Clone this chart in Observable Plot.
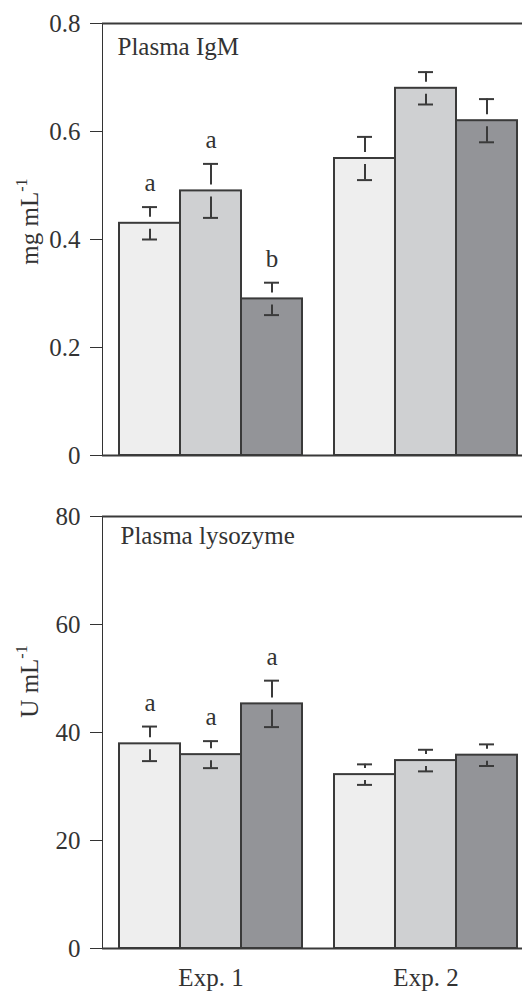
<!DOCTYPE html>
<html><head><meta charset="utf-8">
<script src="https://cdn.jsdelivr.net/npm/d3@7"></script>
<script src="https://cdn.jsdelivr.net/npm/@observablehq/plot@0.6"></script>
<style>
html,body{margin:0;padding:0;background:#fff;overflow:hidden}
#chart svg{display:block}
</style>
</head><body><div id="chart"></div>
<script>
const experiments = ["Exp. 1", "Exp. 2"];
const groups = ["1", "2", "3"];
const groupFills = ["#eeeeee", "#cfd0d2", "#939498"];

const igmMean = [0.43, 0.49, 0.29, 0.55, 0.68, 0.62];
const igmSE = [0.03, 0.05, 0.03, 0.04, 0.03, 0.04];
const igmLetters = ["a", "a", "b", "", "", ""];
const igmTicks = [0, 0.2, 0.4, 0.6, 0.8];

const lysMean = [37.9, 35.9, 45.3, 32.2, 34.8, 35.8];
const lysSE = [3.2, 2.5, 4.3, 1.9, 2.0, 2.0];
const lysLetters = ["a", "a", "a", "", "", ""];
const lysTicks = [0, 20, 40, 60, 80];

const INK = "#3a3a3a";
const FONT = "Liberation Serif, Times New Roman, serif";

function rows(means, ses, letters) {
  return means.map((m, i) => ({
    exp: experiments[Math.floor(i / 3)],
    group: groups[i % 3],
    mean: m,
    se: ses[i],
    letter: letters[i]
  }));
}

function panel(o) {
  const data = rows(o.mean, o.se, o.letters);
  const yMax = o.ticks[o.ticks.length - 1];
  const marks = [
    Plot.barY(data, {fx: "exp", x: "group", y: "mean", fill: "group", stroke: INK, strokeWidth: 2}),
    Plot.ruleX(data, {fx: "exp", x: "group", y1: d => d.mean + d.se, y2: "mean", insetBottom: 6, stroke: INK, strokeWidth: 2}),
    Plot.ruleX(data, {fx: "exp", x: "group", y1: "mean", y2: d => d.mean - d.se, insetTop: 6, stroke: INK, strokeWidth: 2}),
    Plot.tickY(data, {fx: "exp", x: "group", y: d => d.mean + d.se, insetLeft: 23, insetRight: 23, stroke: INK, strokeWidth: 2}),
    Plot.tickY(data, {fx: "exp", x: "group", y: d => d.mean - d.se, insetLeft: 23, insetRight: 23, stroke: INK, strokeWidth: 2}),
    Plot.text(data, {fx: "exp", x: "group", y: d => d.mean + d.se, text: "letter", dy: -16, lineAnchor: "bottom", fontSize: 25}),
    Plot.ruleY([0, yMax], {stroke: INK, strokeWidth: 2}),
    Plot.text([experiments[0]], {fx: d => d, frameAnchor: "top-left", text: () => o.title, textAnchor: "start", lineAnchor: "top", dx: o.titleDx, dy: o.titleDy, fontSize: 25}),
    Plot.text([experiments[0]], {fx: d => d, frameAnchor: "left", text: () => o.ylab, rotate: -90, textAnchor: "middle", lineAnchor: "middle", dx: -73, dy: o.ylabDy, fontSize: 25})
  ];
  if (o.showExp) {
    marks.push(Plot.text(experiments, {fx: d => d, x: () => groups[1], frameAnchor: "bottom", text: d => d, lineAnchor: "top", dy: 20, fontSize: 25}));
  }
  const chart = Plot.plot({
    width: 522,
    height: o.height,
    marginLeft: 102,
    marginRight: 0,
    marginTop: o.marginTop,
    marginBottom: o.marginBottom,
    style: {fontFamily: FONT, fontSize: "25px", color: "#333", background: "white"},
    fx: {domain: experiments, range: [102, 532], padding: 0, axis: null, label: null},
    x: {domain: groups, padding: 0, insetLeft: 16, insetRight: 14, axis: null, label: null},
    y: {domain: [0, yMax], ticks: o.ticks, tickSize: 12, tickPadding: 10, tickFormat: d => String(d), label: null, line: true},
    color: {domain: groups, range: groupFills},
    marks
  });
  // superscript for the unit exponent
  d3.select(chart).selectAll("text").filter(function () { return this.textContent === o.ylab; }).each(function () {
    const t = d3.select(this);
    t.text(null);
    t.append("tspan").text(o.ylabBase);
    t.append("tspan").attr("dy", -11).attr("font-size", 16).text("-1");
  });
  return chart;
}

const root = document.getElementById("chart");
root.appendChild(panel({
  mean: igmMean, se: igmSE, letters: igmLetters, ticks: igmTicks,
  title: "Plasma IgM", ylab: "mg mL-1", ylabBase: "mg mL",
  height: 480, marginTop: 23, marginBottom: 25,
  titleDx: 15, titleDy: 14, ylabDy: -18, showExp: false
}));
root.appendChild(panel({
  mean: lysMean, se: lysSE, letters: lysLetters, ticks: lysTicks,
  title: "Plasma lysozyme", ylab: "U mL-1", ylabBase: "U mL",
  height: 512, marginTop: 36, marginBottom: 44,
  titleDx: 18, titleDy: 10, ylabDy: -51, showExp: true
}));
</script>
</body></html>
